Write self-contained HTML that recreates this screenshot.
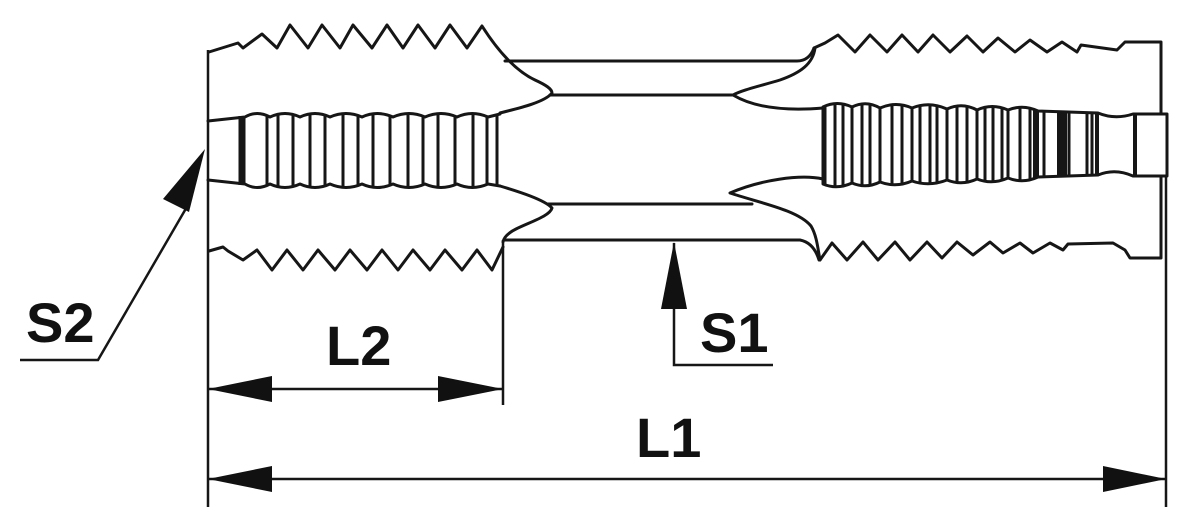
<!DOCTYPE html>
<html>
<head>
<meta charset="utf-8">
<style>
  html,body{margin:0;padding:0;background:#fff;}
  svg{display:block;}
  text{font-family:"Liberation Sans",Arial,sans-serif;font-weight:bold;fill:#111;}
</style>
</head>
<body>
<svg width="1198" height="523" viewBox="0 0 1198 523" xmlns="http://www.w3.org/2000/svg">
  <rect width="1198" height="523" fill="#fff"/>
  <g fill="none" stroke="#161616" stroke-width="3" stroke-linejoin="round" stroke-linecap="round">
    <!-- LEFT END: top thread + flute curve -->
    <path d="M209,52 L238,43 L243,48 L262,34 L277,48 L290,25 L308,48 L322,25 L340,48 L353,25 L372,48 L387,25 L403,48 L418,25 L435,48 L450,25 L467,48 L482,26 C496,48 514,70 535,80 C546,85 552,89 552,93 C545,102 520,108 500,113"/>
    <!-- neck top outer line -->
    <path d="M505,61 L797,61 C806,61 811,56 814,48"/>
    <!-- neck inner top -->
    <path d="M550,95 L735,95"/>
    <!-- right top flute -->
    <path d="M815,48 C813,64 800,73 780,80 C760,86 742,90 733,95 C748,104 775,112 823,108"/>
    <!-- RIGHT END top thread -->
    <path d="M814,48 L825,43 L838,35 L855,52 L870,35 L887,52 L902,35 L918,52 L933,35 L950,52 L967,36 L983,52 L998,38 L1015,52 L1030,40 L1047,52 L1062,42 L1077,52 L1081,45 L1117,50 L1125,42 L1161,42 L1161,114"/>
    <!-- left bottom flute -->
    <path d="M500,186 C520,192 545,200 552,208 C550,216 530,222 516,229 C508,233 504,237 503,242"/>
    <!-- neck inner bottom -->
    <path d="M548,204 L752,204"/>
    <!-- neck bottom outer -->
    <path d="M505,240 L800,240 C810,242 816,250 819,260"/>
    <!-- right bottom flute -->
    <path d="M823,179 C800,174 760,180 730,193 C760,203 798,210 811,226 C817,236 818,250 820,260"/>
    <!-- left bottom thread -->
    <path d="M209,251 L223,247 L228,251 L243,260 L257,250 L272,270 L287,250 L303,270 L318,250 L335,270 L350,250 L367,270 L382,250 L398,270 L413,250 L430,270 L445,250 L462,270 L477,250 L492,270 L503,247"/>
    <!-- right bottom thread -->
    <path d="M820,260 L832,243 L847,260 L863,242 L878,260 L895,242 L910,260 L927,242 L942,258 L957,242 L973,255 L990,242 L1003,253 L1020,243 L1033,253 L1050,243 L1063,250 L1068,244 L1113,243 L1125,250 L1130,258 L1161,258 L1161,176"/>

    <!-- LEFT SHANK outline -->
    <path d="M208,121 L245,117 Q257,110 270,117 Q285,110 300,117 Q315,110 330,117 Q346,110 362,117 Q377,110 393,117 Q409,110 425,117 Q441,110 457,117 Q472,110 488,117 L500,114"/>
    <path d="M208,180 L245,184 Q257,191 270,184 Q285,191 300,184 Q315,191 330,184 Q346,191 362,184 Q377,191 393,184 Q409,191 425,184 Q441,191 457,184 Q472,191 488,184 L500,186"/>

    <!-- RIGHT SHANK outline -->
    <path d="M823,107 Q837,100 852,107 Q866,100 880,108 Q896,101 912,108 Q929,101 947,109 Q962,102 977,110 Q992,103 1008,110 Q1023,104 1038,111 L1098,113 Q1115,120 1133,114 L1167,114 L1167,176 L1133,176 Q1115,168 1098,175 L1038,177 Q1023,184 1008,178 Q992,185 977,179 Q962,186 947,180 Q929,187 912,181 Q896,188 880,182 Q866,189 852,183 Q837,190 823,184 Z"/>
  </g>

  <!-- grooves left shank -->
  <g stroke="#161616" stroke-width="3">
    <line x1="242" y1="116" x2="242" y2="185" stroke-width="7"/>
    <line x1="267" y1="116" x2="267" y2="185"/>
    <line x1="278" y1="115" x2="278" y2="186"/>
    <line x1="293" y1="115" x2="293" y2="186"/>
    <line x1="310" y1="115" x2="310" y2="186"/>
    <line x1="325" y1="116" x2="325" y2="185"/>
    <line x1="343" y1="115" x2="343" y2="186"/>
    <line x1="358" y1="116" x2="358" y2="185"/>
    <line x1="373" y1="115" x2="373" y2="186"/>
    <line x1="390" y1="116" x2="390" y2="185"/>
    <line x1="408" y1="115" x2="408" y2="186"/>
    <line x1="423" y1="116" x2="423" y2="185"/>
    <line x1="438" y1="115" x2="438" y2="186"/>
    <line x1="455" y1="116" x2="455" y2="185"/>
    <line x1="473" y1="115" x2="473" y2="186"/>
    <line x1="487" y1="116" x2="487" y2="185"/>
    <line x1="497" y1="114" x2="497" y2="186"/>
  </g>

  <!-- grooves right shank -->
  <g stroke="#161616" stroke-width="3">
    <line x1="825" y1="106" x2="825" y2="184"/>
    <line x1="835" y1="104" x2="835" y2="186"/>
    <line x1="843" y1="104" x2="843" y2="186"/>
    <line x1="852" y1="106" x2="852" y2="183"/>
    <line x1="862" y1="105" x2="862" y2="185"/>
    <line x1="870" y1="105" x2="870" y2="185"/>
    <line x1="880" y1="107" x2="880" y2="182"/>
    <line x1="892" y1="105" x2="892" y2="184"/>
    <line x1="902" y1="105" x2="902" y2="184"/>
    <line x1="912" y1="107" x2="912" y2="181"/>
    <line x1="920" y1="106" x2="920" y2="183"/>
    <line x1="930" y1="105" x2="930" y2="184"/>
    <line x1="937" y1="106" x2="937" y2="183"/>
    <line x1="947" y1="108" x2="947" y2="180"/>
    <line x1="957" y1="107" x2="957" y2="182"/>
    <line x1="967" y1="107" x2="967" y2="182"/>
    <line x1="977" y1="109" x2="977" y2="179"/>
    <line x1="985" y1="107" x2="985" y2="181"/>
    <line x1="993" y1="107" x2="993" y2="181"/>
    <line x1="1002" y1="108" x2="1002" y2="180"/>
    <line x1="1008" y1="109" x2="1008" y2="178"/>
    <line x1="1020" y1="108" x2="1020" y2="180"/>
    <line x1="1030" y1="109" x2="1030" y2="179"/>
    <line x1="1036" y1="110" x2="1036" y2="178" stroke-width="6"/>
    <line x1="1044" y1="111" x2="1044" y2="177"/>
    <line x1="1062" y1="111" x2="1062" y2="177" stroke-width="10"/>
    <line x1="1069" y1="111" x2="1069" y2="177"/>
    <line x1="1087" y1="112" x2="1087" y2="176"/>
    <line x1="1092" y1="112" x2="1092" y2="176"/>
    <line x1="1097" y1="112" x2="1097" y2="176" stroke-width="4"/>
    <line x1="1135" y1="114" x2="1135" y2="176" stroke-width="4"/>
  </g>

  <!-- extension & dimension lines -->
  <g stroke="#161616" stroke-width="2.5" fill="none">
    <line x1="208" y1="50" x2="208" y2="507"/>
    <line x1="503" y1="240" x2="503" y2="405"/>
    <line x1="1166" y1="176" x2="1166" y2="507"/>
    <line x1="207" y1="389" x2="503" y2="389"/>
    <line x1="207" y1="479" x2="1166" y2="479"/>
    <polyline points="674,243 674,365 773,365"/>
    <polyline points="20,360 98,360 188,205"/>
  </g>
  <g fill="#111" stroke="none">
    <polygon points="208,389 272,376 272,402"/>
    <polygon points="503,389 438,376 438,402"/>
    <polygon points="208,479 272,466 272,492"/>
    <polygon points="1166,479 1103,466 1103,492"/>
    <polygon points="674,242 661,309 687,309"/>
    <polygon points="205,149 163,199 189,212"/>
  </g>

  <text x="26" y="342" font-size="56">S2</text>
  <text x="326" y="365" font-size="56">L2</text>
  <text x="700" y="352" font-size="56">S1</text>
  <text x="636" y="457" font-size="56">L1</text>
</svg>
</body>
</html>
